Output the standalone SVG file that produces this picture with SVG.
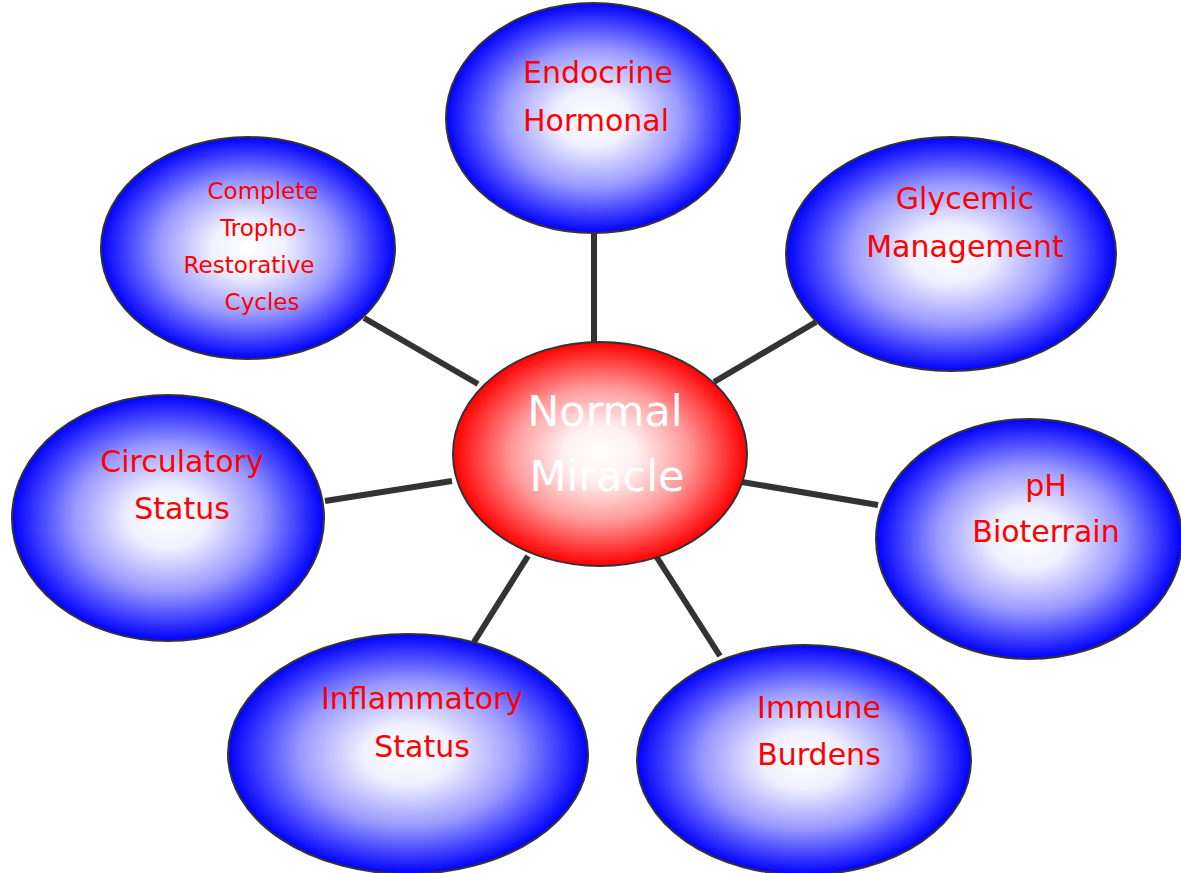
<svg xmlns="http://www.w3.org/2000/svg" width="1181" height="873" viewBox="0 0 1181 873">
<style>
.node{stroke:#333;stroke-width:2}
.blue{fill:url(#gb)}
.red{fill:url(#gr)}
.t{font-family:"DejaVu Sans","Liberation Sans",sans-serif;fill:#ff0000;text-anchor:middle;font-size:30px}
.s{font-size:23px}
.w{fill:#fff;font-size:43px}
.c line{stroke:#333;stroke-width:6}
</style>
<defs>
<radialGradient id="gb" cx="0.5" cy="0.5" r="0.5">
<stop offset="0" stop-color="#ffffff"/>
<stop offset="0.25" stop-color="#f0f0ff"/>
<stop offset="0.6" stop-color="#9999ff"/>
<stop offset="1" stop-color="#0000ff"/>
</radialGradient>
<radialGradient id="gr" cx="0.5" cy="0.5" r="0.5">
<stop offset="0" stop-color="#ffffff"/>
<stop offset="0.25" stop-color="#fff0f0"/>
<stop offset="0.6" stop-color="#ff9999"/>
<stop offset="1" stop-color="#ff0000"/>
</radialGradient>
</defs>
<g class="c" id="connectors">
<line x1="594" y1="232" x2="594" y2="344"/>
<line x1="816" y1="322" x2="714" y2="382"/>
<line x1="364" y1="318" x2="478" y2="384"/>
<line x1="325" y1="501" x2="452" y2="481"/>
<line x1="742" y1="482" x2="878" y2="505"/>
<line x1="528" y1="556" x2="474" y2="642"/>
<line x1="656" y1="556" x2="720" y2="656"/>
</g>
<g id="endocrine">
<ellipse class="node blue" cx="593" cy="118" rx="147" ry="115"/>
<text class="t" x="598" y="83">Endocrine</text>
<text class="t" x="596" y="131">Hormonal</text>
</g>
<g id="glycemic">
<ellipse class="node blue" cx="951" cy="254" rx="165" ry="117"/>
<text class="t" x="965" y="209">Glycemic</text>
<text class="t" x="965" y="257">Management</text>
</g>
<g id="complete">
<ellipse class="node blue" cx="248" cy="248" rx="147" ry="111"/>
<text class="t s" x="263" y="199">Complete</text>
<text class="t s" x="263" y="236">Tropho-</text>
<text class="t s" x="249" y="273">Restorative</text>
<text class="t s" x="262" y="310">Cycles</text>
</g>
<g id="circulatory">
<ellipse class="node blue" cx="168" cy="518" rx="156" ry="123"/>
<text class="t" x="182" y="472">Circulatory</text>
<text class="t" x="182" y="519">Status</text>
</g>
<g id="ph">
<ellipse class="node blue" cx="1029" cy="539" rx="153" ry="120"/>
<text class="t" x="1046" y="496">pH</text>
<text class="t" x="1046" y="542">Bioterrain</text>
</g>
<g id="inflammatory">
<ellipse class="node blue" cx="408" cy="754" rx="180" ry="120"/>
<text class="t" x="422" y="709">Inflammatory</text>
<text class="t" x="422" y="757">Status</text>
</g>
<g id="immune">
<ellipse class="node blue" cx="804" cy="760" rx="167" ry="115"/>
<text class="t" x="819" y="718">Immune</text>
<text class="t" x="819" y="765">Burdens</text>
</g>
<g id="normal">
<ellipse class="node red" cx="600" cy="454" rx="147" ry="112"/>
<text class="t w" x="605" y="426">Normal</text>
<text class="t w" x="607" y="491">Miracle</text>
</g>
</svg>
